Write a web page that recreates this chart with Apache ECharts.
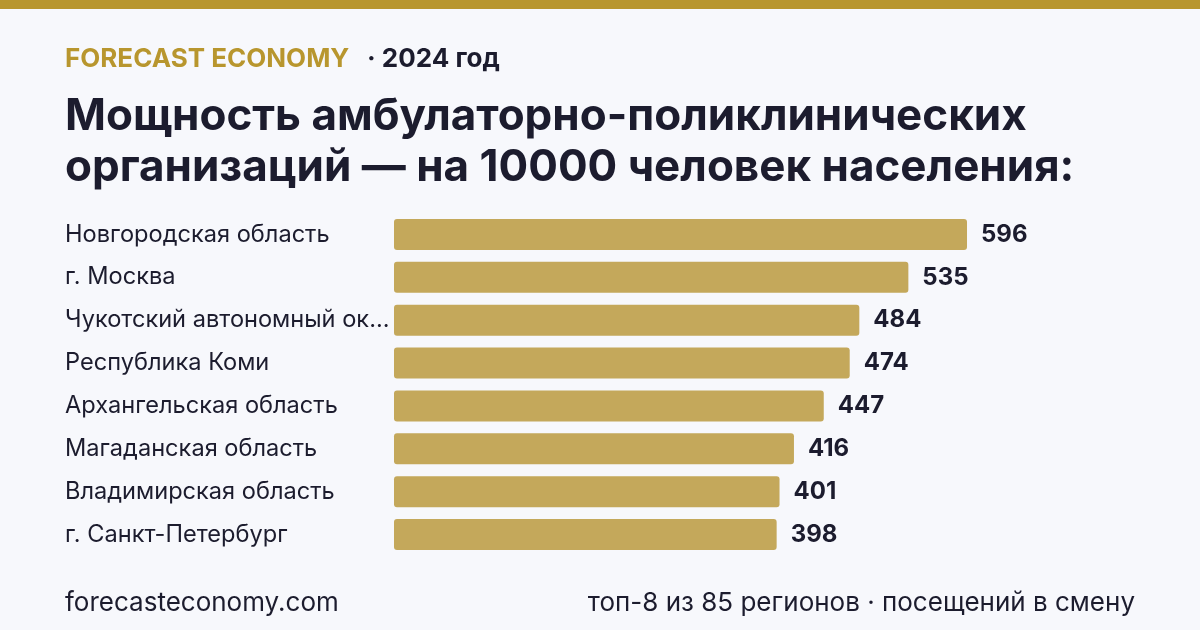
<!DOCTYPE html>
<html>
<head>
<meta charset="utf-8">
<script src="https://cdn.jsdelivr.net/npm/echarts@6/dist/echarts.min.js"></script>
<style>
html,body{margin:0;padding:0;background:#F7F8FC;}
#chart{width:1200px;height:630px;}
</style>
</head>
<body>
<div id="chart"></div>
<script>
const categories = [
  "Новгородская область",
  "г. Москва",
  "Чукотский автономный округ",
  "Республика Коми",
  "Архангельская область",
  "Магаданская область",
  "Владимирская область",
  "г. Санкт-Петербург"
];
const values = [596, 535, 484, 474, 447, 416, 401, 398];

const brand = "FORECAST ECONOMY";
const yearText = "· 2024 год";
const titleText = "Мощность амбулаторно-поликлинических\nорганизаций — на 10000 человек населения:";
const footerLeft = "forecasteconomy.com";
const footerRight = "топ-8 из 85 регионов · посещений в смену";

const FONT = "Inter, 'Noto Sans', sans-serif";
const DARK = "#1C1C2E";
const GOLD = "#B8962E";
const LABEL_FONT_SIZE = 23.6;
const LABEL_MAX_W = 330;

const measureCtx = document.createElement('canvas').getContext('2d');
measureCtx.font = LABEL_FONT_SIZE + "px " + FONT;
function fitLabel(s) {
  if (measureCtx.measureText(s).width <= LABEL_MAX_W) return s;
  let t = s;
  while (t.length > 1 && measureCtx.measureText(t + "...").width > LABEL_MAX_W) t = t.slice(0, -1);
  return t + "...";
}

const chart = echarts.init(document.getElementById('chart'), null, {renderer: 'canvas'});
chart.setOption({
  backgroundColor: "#F7F8FC",
  animation: false,
  graphic: [
    {type: 'rect', left: 0, top: 0, shape: {width: 1200, height: 9}, style: {fill: GOLD}},
    {type: 'text', left: 65, top: 46, style: {text: brand, font: "bold 26px " + FONT, fill: GOLD}},
    {type: 'text', left: 367, top: 46, style: {text: yearText, font: "bold 26px " + FONT, fill: DARK}},
    {type: 'text', left: 65, top: 91, style: {text: titleText, font: "bold 44px " + FONT, fill: DARK, lineHeight: 51}},
    {type: 'text', left: 65, top: 590, style: {text: footerLeft, font: "26px " + FONT, fill: DARK}},
    {type: 'text', right: 65, top: 590, style: {text: footerRight, font: "26px " + FONT, fill: DARK}}
  ],
  grid: {left: 394, top: 213, width: 673, height: 343, containLabel: false},
  xAxis: {
    type: 'value', min: 0, max: 700,
    show: false
  },
  yAxis: {
    type: 'category',
    data: categories,
    inverse: true,
    axisLine: {show: false},
    axisTick: {show: false},
    splitLine: {show: false},
    axisLabel: {
      align: 'left',
      margin: 329,
      formatter: fitLabel,
      fontFamily: FONT,
      fontSize: LABEL_FONT_SIZE,
      color: DARK,
      padding: [4, 0, 0, 0]
    }
  },
  series: [{
    type: 'bar',
    data: values,
    barWidth: 31,
    itemStyle: {color: "#C4A85B", borderRadius: 3},
    label: {
      show: true,
      position: 'right',
      distance: 14,
      fontFamily: FONT,
      fontWeight: 'bold',
      fontSize: 24,
      color: DARK,
      padding: [4, 0, 0, 0]
    }
  }]
});
</script>
</body>
</html>
